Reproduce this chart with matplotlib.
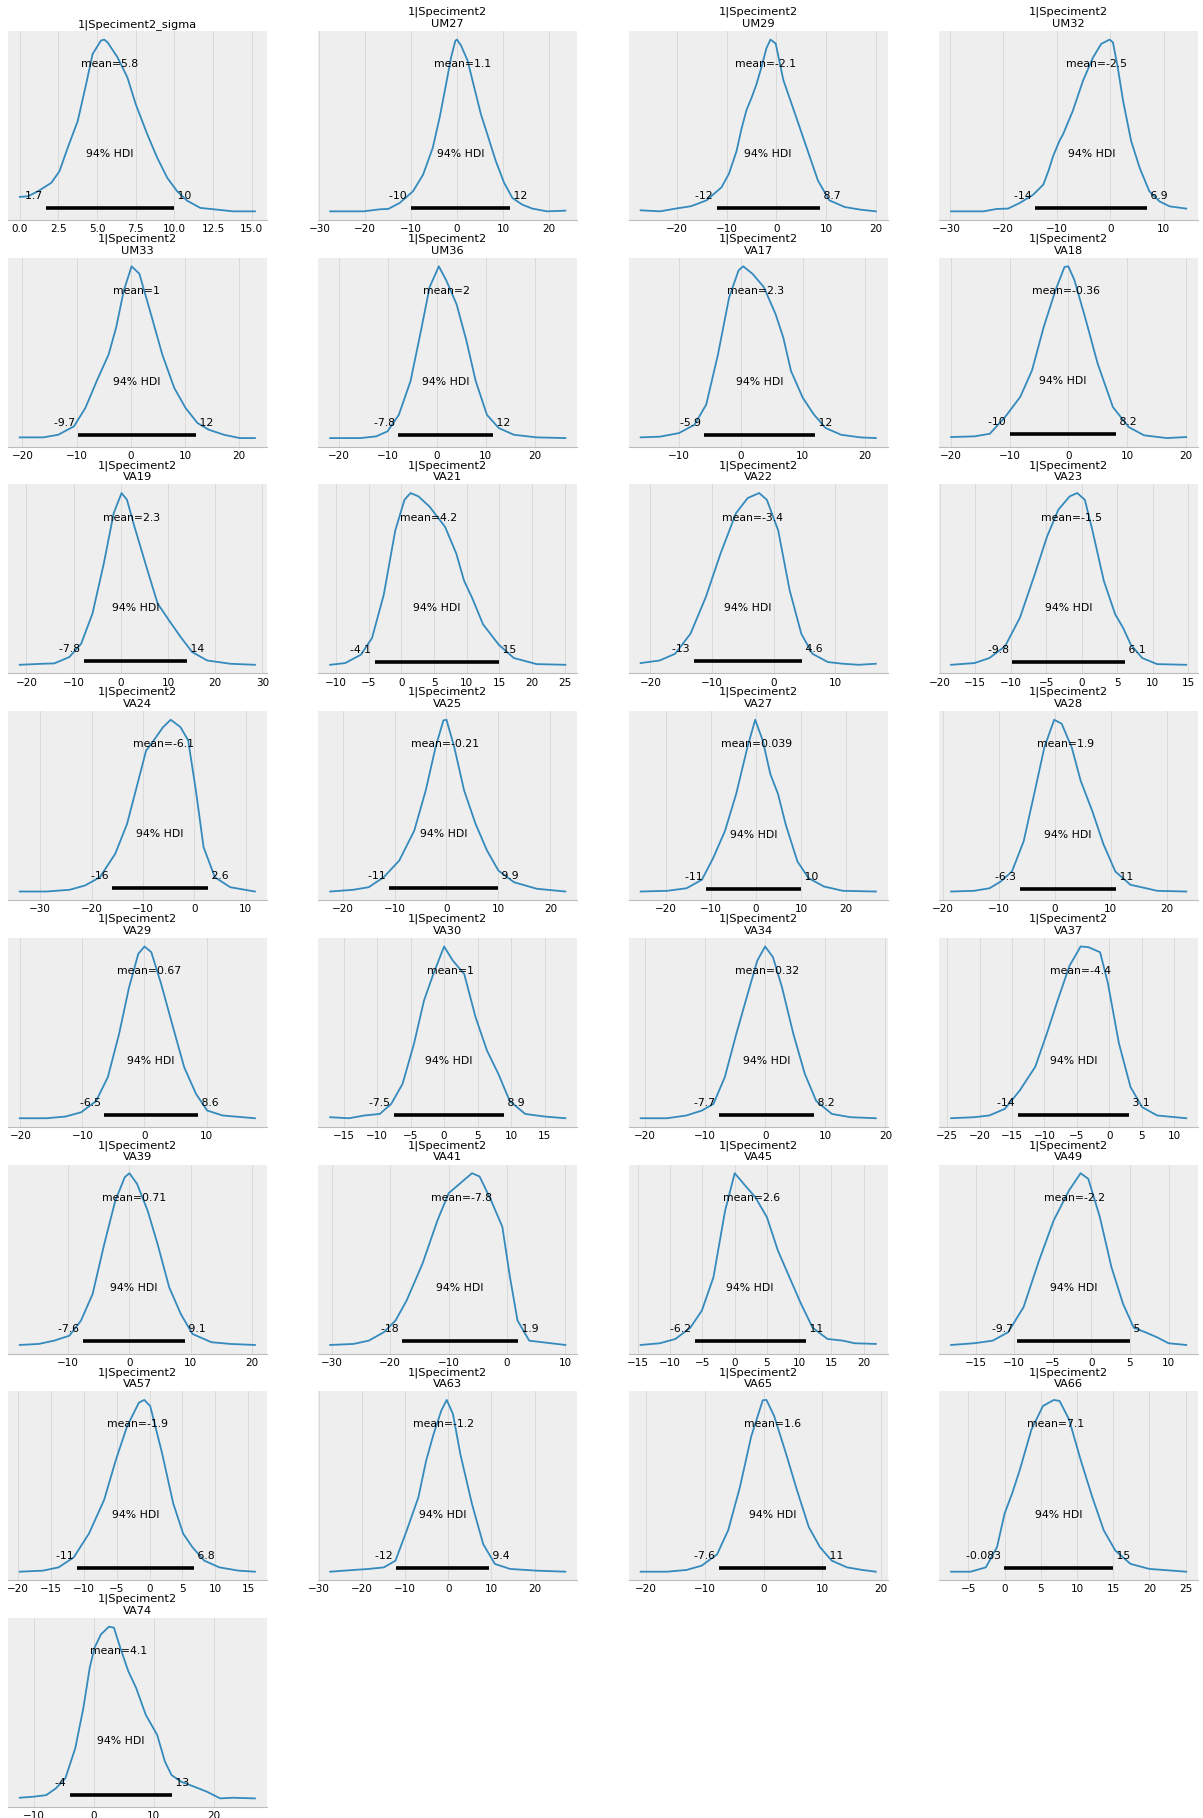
import matplotlib.pyplot as plt
from matplotlib.ticker import MultipleLocator

# Posterior summaries for the group-level parameters
titles = ["1|Speciment2_sigma"] + ["1|Speciment2\n" + n for n in [
    "UM27", "UM29", "UM32", "UM33", "UM36", "VA17", "VA18", "VA19", "VA21",
    "VA22", "VA23", "VA24", "VA25", "VA27", "VA28", "VA29", "VA30", "VA34",
    "VA37", "VA39", "VA41", "VA45", "VA49", "VA57", "VA63", "VA65", "VA66", "VA74"]]

means = [5.8, 1.1, -2.1, -2.5, 1.0, 2.0, 2.3, -0.36, 2.3, 4.2, -3.4, -1.5, -6.1, -0.21,
         0.039, 1.9, 0.67, 1.0, 0.32, -4.4, 0.71, -7.8, 2.6, -2.2, -1.9, -1.2, 1.6, 7.1, 4.1]

hdi_low = [1.7, -10.1, -12, -14, -9.7, -7.8, -5.9, -10, -7.8, -4.1, -13, -9.8, -16, -11,
           -11, -6.3, -6.5, -7.5, -7.7, -14, -7.6, -18, -6.2, -9.7, -11, -12, -7.6, -0.083, -4]
hdi_high = [9.96, 11.6, 8.7, 6.9, 12, 11.6, 12, 8.2, 14, 15, 4.6, 6.1, 2.6, 9.9,
            10, 11, 8.6, 8.9, 8.2, 3.1, 9.1, 1.9, 11, 5, 6.8, 9.4, 10.6, 15, 13]

tick_steps = [2.5, 10, 10, 10, 10, 10, 10, 10, 10, 5, 10, 5, 10, 10,
              10, 10, 10, 5, 10, 5, 10, 10, 5, 5, 5, 10, 10, 5, 10]

# Kernel density estimates (x, relative density)
kde_x = [
    [0, 0.54, 1.18, 2.04, 2.57, 3.1, 3.75, 4.29, 4.71, 5.25, 5.46, 5.68, 6.32, 6.96, 7.5, 8.25, 8.89, 9.54, 10.18, 10.82, 11.68, 12.75, 13.82, 15.21],
    [-27.65, -24.8, -20.4, -16.8, -15.0, -12.5, -9.6, -7.4, -5.3, -3.8, -2.4, -1.3, -0.36, 0, 0.87, 2.3, 3.75, 5.2, 6.6, 8.45, 10.25, 12.06, 14.2, 16.4, 19.6, 23.6],
    [-27.2, -23.3, -20.2, -17.1, -14.0, -11.0, -9.5, -8.0, -7.0, -6.0, -5.0, -4.0, -3.0, -2.0, -1.2, -0.15, 1.4, 3.7, 6.0, 8.3, 10.6, 13.7, 16.8, 19.9],
    [-29.75, -26.8, -23.7, -21.2, -19.1, -16.9, -14.4, -12.5, -11.5, -10.7, -9.5, -8.8, -7.0, -5.1, -3.2, -1.7, -0.12, 0.5, 1.4, 2.4, 3.9, 5.5, 7.3, 9.2, 11.1, 14.2],
    [-20.5, -16.2, -13.4, -10.5, -8.4, -6.3, -4.1, -2.7, -1.3, 0.14, 1.57, 3.7, 5.8, 8.0, 10.1, 12.3, 14.4, 17.2, 20.1, 22.9],
    [-21.7, -15.5, -12.3, -10, -7.7, -5.3, -3.3, -1.4, 0.47, 2.0, 4.1, 6.1, 8.0, 10.3, 12.7, 15.8, 20.5, 26.3],
    [-16.2, -13.1, -10, -7.5, -5.6, -3.7, -1.9, -0.37, 0.37, 1.87, 3.7, 5.6, 6.85, 8.1, 10.0, 11.8, 13.7, 16.2, 19.3, 21.8],
    [-20, -16, -13.4, -10.8, -8.2, -6.2, -4.2, -2.2, -0.66, 0, 1.05, 3.0, 5.0, 7.6, 10.3, 12.9, 16.8, 20.1],
    [-21.4, -16.6, -14.1, -10.9, -8.4, -6.0, -3.6, -1.5, 0.16, 1.3, 2.9, 5.4, 7.8, 10.2, 12.7, 15.1, 18.3, 23.2, 28.4],
    [-10.9, -8.6, -6.2, -4.5, -2.7, -0.94, 0.47, 1.4, 2.6, 4.3, 6.7, 8.4, 9.6, 10.8, 12.5, 14.9, 17.2, 20.7, 25.1],
    [-21.6, -18.5, -16, -13.5, -11, -8.6, -6.1, -4.2, -2.35, -1.1, 0.74, 2.6, 4.5, 6.3, 8.8, 11.3, 13.8, 16.6],
    [-18.4, -15.1, -13, -10.8, -8.7, -6.6, -4.9, -3.3, -1.7, -0.64, 0.43, 1.5, 3.1, 4.7, 5.8, 6.9, 8.5, 10.6, 14.7],
    [-34, -28.8, -24.3, -21.3, -18.4, -15.4, -13.1, -10.9, -9.4, -7.9, -6.1, -4.6, -2.7, -1.2, 0.3, 1.8, 4.0, 7.0, 11.8],
    [-22.4, -18, -15, -12.1, -9.1, -6.2, -4.0, -2.1, -0.6, 0, 1.5, 3.4, 5.6, 7.8, 10, 13, 17.4, 22.9],
    [-25.6, -19.7, -15.4, -12, -9.5, -6.9, -4.4, -1.9, -0.17, 1.5, 3.2, 4.9, 6.6, 9.2, 11.7, 15.1, 19.3, 26.6],
    [-18.6, -14.5, -11.7, -9.7, -7.7, -5.6, -3.6, -1.9, -0.14, 1.2, 3.0, 4.6, 6.7, 8.7, 10.8, 13.5, 16.3, 18.3, 23.5],
    [-20.1, -15.8, -12.7, -10.2, -7.8, -5.9, -4.1, -2.5, -1, 0, 1.1, 2.7, 4.6, 6.4, 8.3, 10.1, 12.6, 17.8],
    [-17, -14.2, -11.9, -9.6, -7.9, -6.2, -4.5, -3.0, -1.6, 0, 1.3, 3.0, 4.7, 6.4, 8.1, 9.8, 12.1, 15, 18.1],
    [-20.7, -16.3, -13.1, -10.5, -8.6, -6.7, -4.8, -2.9, -1.3, 0, 1.3, 2.8, 4.7, 6.6, 8.5, 11.1, 14.2, 18.4],
    [-24.4, -20.8, -18.5, -16.1, -13.8, -11.4, -9.6, -7.9, -6.1, -4.4, -3.2, -1.4, -0.2, 1.5, 3.3, 5.1, 7.4, 11.9],
    [-17.9, -14.8, -12.3, -9.8, -7.9, -6, -4.1, -2.3, -0.75, 0, 1.25, 3, 4.6, 6.5, 8.4, 10.3, 13.4, 16.5, 20.5],
    [-30.3, -26.3, -23.7, -21.1, -19.1, -17.2, -14.5, -11.9, -10, -8, -6, -4.7, -2.75, -0.8, 0.5, 1.8, 3.8, 10],
    [-14.6, -11.6, -9.2, -6.9, -5.1, -3.3, -1.5, 0, 1.4, 3.2, 5, 6.7, 8.5, 10.3, 12.1, 14.4, 16.8, 18.6, 21.9],
    [-18.2, -15.2, -12.8, -10.8, -8.8, -6.8, -4.9, -2.9, -1.4, -0.4, 1.1, 2.6, 4.1, 5.5, 7.0, 8.5, 10, 12.3],
    [-19.7, -16.2, -13.8, -11.5, -9.2, -6.9, -5.1, -3.4, -1.6, -0.8, 0.1, 1.9, 3.6, 5.1, 6.5, 8.3, 10.6, 13.5, 16],
    [-27.3, -21.9, -18.4, -14.9, -12.2, -9.6, -6.9, -5.1, -3.4, -1.6, -0.35, 1.1, 2.8, 5.5, 8.1, 10.8, 14.3, 20.5, 27.1],
    [-20.9, -16.4, -13.1, -10.5, -7.9, -6, -4, -2.1, -0.13, 0.5, 1.8, 3.8, 5.7, 7.7, 9.6, 11.6, 14.2, 16.8, 19.1],
    [-7.4, -4.7, -2.6, -1.05, 0, 1.05, 2.1, 3.7, 5.3, 6.8, 7.6, 8.9, 10.5, 12.1, 13.7, 15.3, 17.4, 20, 25.1],
    [-12.3, -10, -7.9, -6.3, -4.7, -3.05, -1.7, -0.64, 0.16, 1.23, 2.57, 3.4, 4.45, 5.8, 7.1, 8.7, 10.6, 11.9, 13.0, 14.6, 16.8, 18.9, 21.1, 23.2, 26.9],
]
kde_y = [
    [0.084, 0.088, 0.117, 0.166, 0.234, 0.37, 0.526, 0.74, 0.916, 0.994, 1.0, 0.984, 0.897, 0.78, 0.624, 0.448, 0.312, 0.195, 0.117, 0.062, 0.02, 0.01, 0.0, 0.0],
    [0, 0, 0, 0.012, 0.014, 0.049, 0.117, 0.214, 0.37, 0.546, 0.74, 0.897, 0.994, 1.0, 0.965, 0.877, 0.72, 0.565, 0.448, 0.292, 0.166, 0.078, 0.039, 0.016, 0.0, 0.004],
    [0.006, 0, 0.016, 0.03, 0.064, 0.14, 0.22, 0.35, 0.48, 0.59, 0.66, 0.74, 0.84, 0.95, 1.0, 0.977, 0.763, 0.57, 0.375, 0.18, 0.064, 0.025, 0.01, 0.0],
    [0, 0, 0, 0.014, 0.016, 0.049, 0.097, 0.156, 0.24, 0.32, 0.41, 0.45, 0.585, 0.76, 0.897, 0.975, 1.0, 0.984, 0.838, 0.643, 0.41, 0.253, 0.117, 0.058, 0.029, 0.016],
    [0.01, 0.01, 0.025, 0.074, 0.18, 0.336, 0.49, 0.647, 0.86, 1.0, 0.957, 0.724, 0.49, 0.297, 0.18, 0.093, 0.054, 0.025, 0.006, 0.006],
    [0.006, 0.006, 0.016, 0.045, 0.14, 0.336, 0.61, 0.88, 1.0, 0.918, 0.78, 0.57, 0.336, 0.14, 0.064, 0.025, 0.01, 0.006],
    [0.01, 0.014, 0.035, 0.083, 0.2, 0.49, 0.82, 0.977, 1.0, 0.957, 0.88, 0.724, 0.588, 0.394, 0.239, 0.142, 0.064, 0.025, 0.01, 0.006],
    [0.006, 0.01, 0.025, 0.122, 0.24, 0.394, 0.647, 0.86, 0.996, 1.0, 0.918, 0.685, 0.433, 0.18, 0.064, 0.016, 0, 0.006],
    [0, 0.006, 0.008, 0.045, 0.122, 0.297, 0.588, 0.88, 0.996, 0.957, 0.8, 0.57, 0.355, 0.258, 0.16, 0.074, 0.025, 0.006, 0],
    [0.006, 0.016, 0.064, 0.16, 0.41, 0.78, 0.957, 0.996, 0.977, 0.918, 0.8, 0.647, 0.49, 0.394, 0.239, 0.122, 0.045, 0.01, 0.006],
    [0.01, 0.025, 0.064, 0.18, 0.394, 0.647, 0.88, 0.967, 0.996, 0.957, 0.78, 0.433, 0.18, 0.064, 0.016, 0.006, 0, 0.006],
    [0.006, 0.016, 0.045, 0.113, 0.278, 0.53, 0.744, 0.9, 0.977, 0.996, 0.957, 0.78, 0.49, 0.297, 0.22, 0.122, 0.045, 0.01, 0.006],
    [0, 0, 0.01, 0.035, 0.083, 0.22, 0.394, 0.647, 0.82, 0.88, 0.957, 1.0, 0.957, 0.88, 0.588, 0.258, 0.083, 0.025, 0],
    [0, 0.01, 0.025, 0.083, 0.18, 0.355, 0.588, 0.84, 0.996, 1.0, 0.84, 0.588, 0.394, 0.239, 0.122, 0.054, 0.016, 0],
    [0.006, 0.01, 0.025, 0.074, 0.2, 0.355, 0.57, 0.84, 1.0, 0.88, 0.685, 0.57, 0.394, 0.18, 0.083, 0.035, 0.01, 0.006],
    [0.006, 0.01, 0.025, 0.064, 0.122, 0.297, 0.588, 0.84, 1.0, 0.977, 0.84, 0.647, 0.47, 0.278, 0.122, 0.045, 0.025, 0.01, 0.006],
    [0, 0, 0.01, 0.035, 0.1, 0.24, 0.49, 0.76, 0.957, 1.0, 0.967, 0.78, 0.53, 0.297, 0.142, 0.045, 0.016, 0],
    [0.006, 0, 0.016, 0.025, 0.083, 0.2, 0.433, 0.685, 0.84, 1.0, 0.918, 0.84, 0.588, 0.394, 0.258, 0.1, 0.025, 0.01, 0],
    [0, 0, 0.016, 0.045, 0.083, 0.24, 0.49, 0.724, 0.918, 1.0, 0.938, 0.763, 0.49, 0.258, 0.1, 0.025, 0.006, 0],
    [0, 0.006, 0.016, 0.054, 0.16, 0.297, 0.49, 0.685, 0.88, 0.99, 0.986, 0.957, 0.78, 0.433, 0.18, 0.064, 0.016, 0],
    [0, 0.006, 0.025, 0.054, 0.142, 0.297, 0.588, 0.84, 0.977, 1.0, 0.938, 0.78, 0.588, 0.336, 0.18, 0.064, 0.016, 0.006, 0],
    [0, 0.006, 0.025, 0.074, 0.142, 0.258, 0.47, 0.724, 0.88, 0.938, 0.996, 0.977, 0.84, 0.685, 0.394, 0.142, 0.025, 0],
    [0, 0.01, 0.035, 0.1, 0.2, 0.394, 0.78, 1.0, 0.938, 0.86, 0.744, 0.55, 0.394, 0.239, 0.1, 0.035, 0.025, 0.01, 0.006],
    [0, 0.01, 0.025, 0.074, 0.22, 0.49, 0.724, 0.9, 1.0, 0.967, 0.744, 0.453, 0.24, 0.1, 0.074, 0.045, 0.01, 0],
    [0, 0.006, 0.025, 0.083, 0.22, 0.414, 0.647, 0.84, 0.977, 0.992, 0.957, 0.685, 0.394, 0.22, 0.142, 0.064, 0.025, 0.006, 0],
    [0, 0.01, 0.016, 0.025, 0.064, 0.24, 0.433, 0.647, 0.8, 0.938, 1.0, 0.918, 0.685, 0.394, 0.16, 0.045, 0.016, 0.006, 0],
    [0, 0, 0.01, 0.035, 0.1, 0.24, 0.49, 0.78, 0.99, 0.992, 0.9, 0.685, 0.47, 0.258, 0.142, 0.064, 0.025, 0.01, 0],
    [0, 0, 0.025, 0.142, 0.336, 0.453, 0.588, 0.82, 0.957, 0.992, 0.986, 0.88, 0.647, 0.433, 0.239, 0.122, 0.045, 0.016, 0],
    [0.004, 0.01, 0.019, 0.058, 0.117, 0.292, 0.526, 0.76, 0.877, 0.955, 1.0, 0.994, 0.877, 0.74, 0.643, 0.487, 0.37, 0.214, 0.136, 0.097, 0.068, 0.039, 0, 0.004, 0],
]


def fmt(v):
    return "{:.2g}".format(v)


fig, axes = plt.subplots(8, 4, figsize=(12.03, 18.18), dpi=100)
fig.subplots_adjust(left=8 / 1203, right=1198 / 1203, top=1 - 31 / 1818,
                    bottom=1 - 1807 / 1818, wspace=0.2, hspace=0.2)

label_size = 7.8
for i, ax in enumerate(axes.flat):
    if i >= len(titles):
        ax.axis("off")
        continue
    ax.set_facecolor("#eeeeee")
    ax.plot(kde_x[i], kde_y[i], color="#348ABD", lw=1.3, solid_joinstyle="round")
    plot_height = ax.get_ylim()[1]

    lo, hi = hdi_low[i], hdi_high[i]
    ax.plot([lo, hi], [plot_height * 0.02] * 2, color="k", lw=2.6, solid_capstyle="butt")
    ax.text(lo, plot_height * 0.07, fmt(lo) + " ", size=label_size, ha="right")
    ax.text(hi, plot_height * 0.07, " " + fmt(hi), size=label_size, ha="left")
    ax.text((lo + hi) / 2, plot_height * 0.3, "94% HDI", size=label_size, ha="center")
    ax.text(means[i], plot_height * 0.8, "mean=" + fmt(means[i]), size=label_size, ha="center")

    ax.set_title(titles[i], fontsize=8.2, pad=3)
    ax.xaxis.set_major_locator(MultipleLocator(tick_steps[i]))
    ax.tick_params(axis="x", labelsize=7.5, length=0, pad=3)
    ax.set_yticks([])
    ax.grid(axis="x", color="#dadada", lw=0.7)
    ax.set_axisbelow(True)
    for side in ["left", "right", "top"]:
        ax.spines[side].set_visible(False)
    ax.spines["bottom"].set_color("#bcbcbc")

fig.savefig("out.png", dpi=100)
